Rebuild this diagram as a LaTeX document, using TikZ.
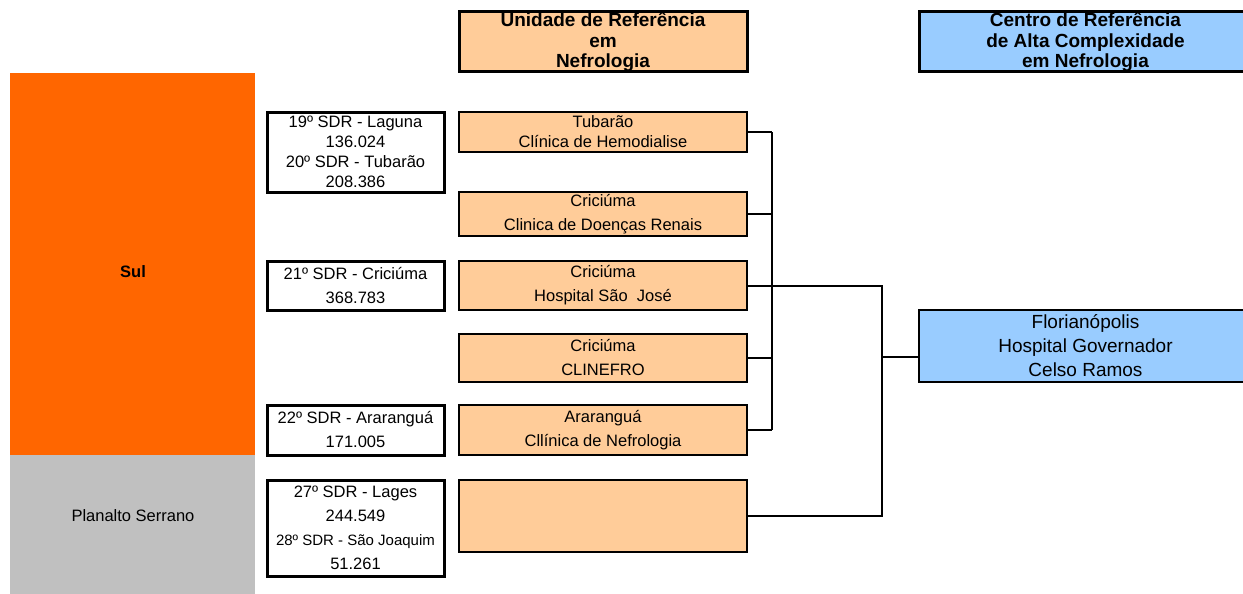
\documentclass[tikz,border=0pt]{standalone}
\usepackage{fontspec}
\setmainfont{Liberation Sans}
\definecolor{sulorange}{HTML}{FF6600}
\definecolor{serragray}{HTML}{C0C0C0}
\definecolor{peach}{HTML}{FFCC99}
\definecolor{refblue}{HTML}{99CCFF}
\tikzset{
  headbox/.style={draw, line width=3pt, inner sep=0pt, minimum height=60pt, align=center,
    font=\bfseries\fontsize{19}{20.5}\selectfont},
  sdrbox/.style={draw, line width=3pt, fill=white, inner sep=0pt, minimum width=177pt, align=center},
  unitbox/.style={draw, line width=2pt, fill=peach, inner sep=0pt, minimum width=288pt, align=center},
  tight/.style={font=\fontsize{16.5}{20}\selectfont},
  loose/.style={font=\fontsize{16.5}{24}\selectfont},
  link/.style={line width=2pt}
}
\begin{document}
\begin{tikzpicture}[x=1pt, y=-1pt]
  \useasboundingbox (0,0) rectangle (1243,594);
  % regioes
  \fill[sulorange] (10,73) rectangle (255,455);
  \fill[serragray] (10,455) rectangle (255,600);
  \node[font=\bfseries\fontsize{16.5}{20}\selectfont] (sul) at (133,272) {Sul};
  \node[font=\fontsize{16.5}{20}\selectfont] (serrano) at (133,516) {Planalto Serrano};
  % cabecalhos
  \node[headbox, fill=peach, minimum width=288pt] (unidade) at (603,42)
    {Unidade de Referência\\em\\Nefrologia};
  \node[headbox, fill=refblue, minimum width=333pt] (centro) at (1085.5,42)
    {Centro de Referência\\de Alta Complexidade\\em Nefrologia};
  % SDR
  \node[sdrbox, tight, minimum height=80pt] (sdrLaguna) at (355.5,152)
    {19º SDR - Laguna\\136.024\\20º SDR - Tubarão\\208.386};
  \node[sdrbox, loose, minimum height=49pt] (sdrCriciuma) at (355.5,285.5)
    {21º SDR - Criciúma\\368.783};
  \node[sdrbox, loose, minimum height=50pt] (sdrArarangua) at (355.5,430)
    {22º SDR - Araranguá\\171.005};
  \node[sdrbox, loose, minimum height=96pt] (sdrLages) at (355.5,528)
    {27º SDR - Lages\\244.549\\{\fontsize{15}{24}\selectfont 28º SDR - São Joaquim}\\51.261};
  % unidades
  \node[unitbox, tight, minimum height=40pt] (tubarao) at (603,132)
    {Tubarão\\Clínica de Hemodialise};
  \node[unitbox, loose, minimum height=44pt] (renais) at (603,214)
    {Criciúma\\Clinica de Doenças Renais};
  \node[unitbox, loose, minimum height=49pt] (saojose) at (603,285.5)
    {Criciúma\\Hospital São\ \ José};
  \node[unitbox, loose, minimum height=48pt] (clinefro) at (603,358)
    {Criciúma\\CLINEFRO};
  \node[unitbox, loose, minimum height=50pt] (nefro) at (603,430)
    {Araranguá\\Cllínica de Nefrologia};
  \node[unitbox, minimum height=72pt] (lages) at (603,516) {};
  % centro
  \node[draw, line width=2pt, fill=refblue, inner sep=0pt, minimum width=333pt, minimum height=72pt,
    align=center, font=\fontsize{19}{24}\selectfont] (floripa) at (1085.5,346)
    {Florianópolis\\Hospital Governador\\Celso Ramos};
  % ligacoes
  \coordinate (busA) at (772,0);
  \coordinate (busB) at (882,0);
  \foreach \u in {tubarao,renais,saojose,clinefro,nefro}
    \draw[link] (\u.east) -- (\u.east -| busA);
  \draw[link] (tubarao.east -| busA) -- (nefro.east -| busA);
  \draw[link] (saojose.east) -- (saojose.east -| busB) -- (lages.east -| busB) -- (lages.east);
  \draw[link] ([yshift=-11pt]floripa.west) -- ([yshift=-11pt]floripa.west -| busB);
\end{tikzpicture}
\end{document}
